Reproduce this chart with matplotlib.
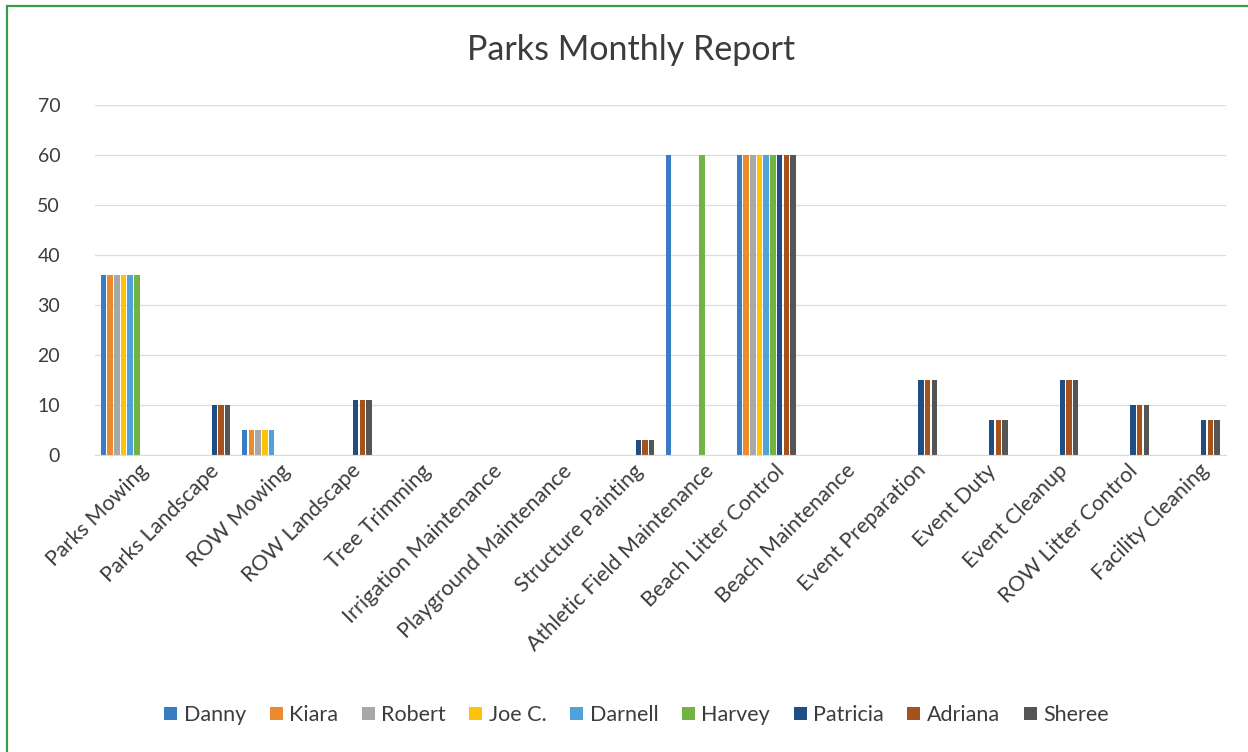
import numpy as np
import matplotlib.pyplot as plt
import matplotlib.transforms as mtrans
from matplotlib.patches import Rectangle

plt.rcParams['font.family'] = ['Lato', 'DejaVu Sans']

tasks = ['Parks Mowing', 'Parks Landscape', 'ROW Mowing', 'ROW Landscape',
         'Tree Trimming', 'Irrigation Maintenance', 'Playground Maintenance',
         'Structure Painting', 'Athletic Field Maintenance', 'Beach Litter Control',
         'Beach Maintenance', 'Event Preparation', 'Event Duty', 'Event Cleanup',
         'ROW Litter Control', 'Facility Cleaning']

workers = ['Danny', 'Kiara', 'Robert', 'Joe C.', 'Darnell', 'Harvey',
           'Patricia', 'Adriana', 'Sheree']

danny    = [36, 0, 5, 0, 0, 0, 0, 0, 60, 60, 0, 0, 0, 0, 0, 0]
kiara    = [36, 0, 5, 0, 0, 0, 0, 0, 0, 60, 0, 0, 0, 0, 0, 0]
robert   = [36, 0, 5, 0, 0, 0, 0, 0, 0, 60, 0, 0, 0, 0, 0, 0]
joe      = [36, 0, 5, 0, 0, 0, 0, 0, 0, 60, 0, 0, 0, 0, 0, 0]
darnell  = [36, 0, 5, 0, 0, 0, 0, 0, 0, 60, 0, 0, 0, 0, 0, 0]
harvey   = [36, 0, 0, 0, 0, 0, 0, 0, 60, 60, 0, 0, 0, 0, 0, 0]
patricia = [0, 10, 0, 11, 0, 0, 0, 3, 0, 60, 0, 15, 7, 15, 10, 7]
adriana  = [0, 10, 0, 11, 0, 0, 0, 3, 0, 60, 0, 15, 7, 15, 10, 7]
sheree   = [0, 10, 0, 11, 0, 0, 0, 3, 0, 60, 0, 15, 7, 15, 10, 7]

hours = [danny, kiara, robert, joe, darnell, harvey, patricia, adriana, sheree]
colors = ['#3a7cc4', '#ea8c2e', '#a8a8a8', '#fdc20a', '#4fa3d9', '#72b443',
          '#1f4e85', '#a5531e', '#555555']

txt = '#3c3c3c'

fig = plt.figure(figsize=(12.48, 7.52), dpi=100)
ax = fig.add_axes([0.076, 0.395, 0.906, 0.465])

x = np.arange(len(tasks))
slot = 0.095
for i, (name, vals) in enumerate(zip(workers, hours)):
    off = (i - (len(workers) - 1) / 2) * slot
    ax.bar(x + off, vals, width=slot * 0.82, color=colors[i], label=name,
           linewidth=0)

ax.set_xlim(-0.5, len(tasks) - 0.5)
ax.set_ylim(0, 70)
ax.set_yticks(range(0, 71, 10))
ax.yaxis.grid(True, color='#dcdcdc', linewidth=0.9)
ax.set_axisbelow(True)
for s in ['top', 'right', 'left']:
    ax.spines[s].set_visible(False)
ax.spines['bottom'].set_color('#d9d9d9')
ax.tick_params(axis='both', length=0, colors=txt)
ax.tick_params(axis='y', pad=25, labelsize=14)
ax.tick_params(axis='x', pad=4, labelsize=15.5)
ax.set_xticks(x)
ax.set_xticklabels(tasks, rotation=45, ha='right', rotation_mode='anchor')

# nudge category labels a little to the right of each tick
shift = mtrans.ScaledTranslation(8 / 100, 0, fig.dpi_scale_trans)
for lab in ax.get_xticklabels():
    lab.set_transform(lab.get_transform() + shift)

fig.text(0.506, 0.933, 'Parks Monthly Report', ha='center', va='center',
         fontsize=24.5, color=txt)

fig.legend(loc='center', bbox_to_anchor=(0.51, 0.049), ncol=9, frameon=False,
           fontsize=15.5, handlelength=0.6, handleheight=0.6,
           handletextpad=0.3, columnspacing=1.1, labelcolor=txt)

# green outline of the chart box
fig.patches.append(Rectangle((0.0058, -0.02), 1.2, 1.012, transform=fig.transFigure,
                             fill=False, edgecolor='#3a9a4a', linewidth=1.6))

fig.savefig('out.png', dpi=100)
